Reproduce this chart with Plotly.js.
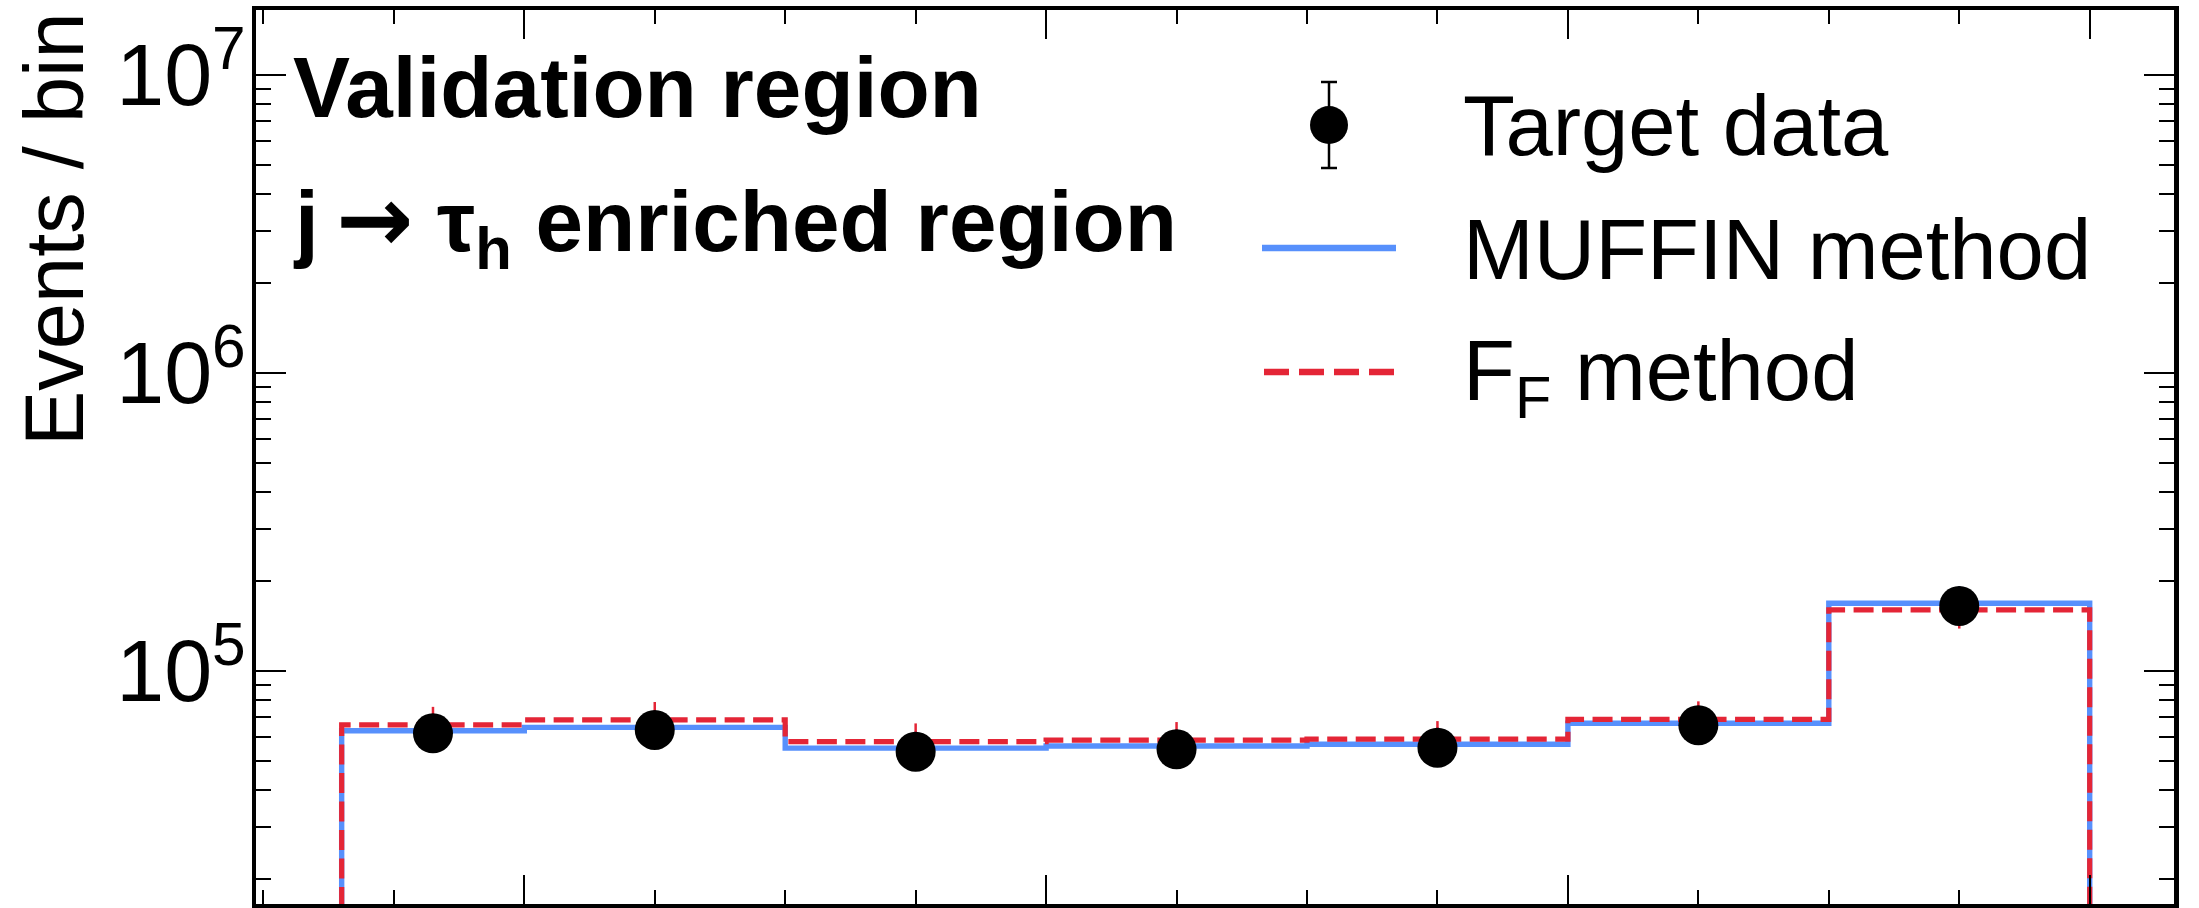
<!DOCTYPE html>
<html>
<head>
<meta charset="utf-8">
<script src="https://cdn.plot.ly/plotly-3.0.1.min.js"></script>
<style>
  html, body { margin: 0; padding: 0; background: #ffffff; }
  #chart { width: 2199px; height: 908px; }
</style>
</head>
<body>
<div id="chart"></div>
<script>
// ---------------- data ----------------
const binEdges    = [-1.4, 0, 2, 4, 6, 8, 10, 12];
const targetData  = [61800, 63400, 53600, 54600, 55300, 65800, 165300];
const targetErr   = [250, 252, 232, 234, 235, 257, 407];
const muffin      = [63000, 64700, 55100, 56000, 56800, 66800, 168700];
const muffinErr   = [8800, 9100, 7700, 7800, 8000, 9400, 24000];
const ffMethod    = [65900, 68500, 57900, 58600, 59100, 68800, 160300];
const ffErr       = [9900, 10200, 8800, 8800, 8800, 10300, 21500];
const legendNames = ["Target data", "MUFFIN method", "F<sub>F</sub> method"];
const regionLines = ["Validation region",
  "j\u2009<span style=\"font-family:DejaVu Sans;font-size:108%\">\u2192</span> \u03c4<sub>h</sub> enriched region"];
const yTitle      = "Events / bin";

// ---------------- styles ----------------
const W = 2199, H = 908;
const M = {l: 256, r: 25, t: 10, b: 4};
const PW = W - M.l - M.r, PH = H - M.t - M.b;
const BLUE = "#5790fc", RED = "#e42536";
const FONT = "Liberation Sans, Arial, Helvetica, sans-serif";
const FLOOR = 1; // histogram walls run down below the visible range

function px(x) { return (x - M.l) / PW; }
function py(y) { return (M.t + PH - y) / PH; }

const centers = binEdges.slice(0, -1).map((e, i) => (e + binEdges[i + 1]) / 2);

function stepXY(vals) {
  const n = vals.length;
  const xs = [binEdges[0]], ys = [FLOOR];
  for (let i = 0; i < n; i++) { xs.push(binEdges[i]); ys.push(vals[i]); }
  xs.push(binEdges[n]); ys.push(vals[n - 1]);
  xs.push(binEdges[n]); ys.push(FLOOR);
  return {x: xs, y: ys};
}

const sb = stepXY(muffin), sr = stepXY(ffMethod);

const traces = [
  {x: sb.x, y: sb.y, type: "scatter", mode: "lines", line: {shape: "hv", color: BLUE, width: 5.4},
   name: legendNames[1], showlegend: false, hoverinfo: "skip"},
  {x: centers, y: muffin, type: "scatter", mode: "markers", marker: {size: 1, opacity: 0},
   error_y: {type: "data", array: muffinErr, visible: true, color: BLUE, thickness: 2.5, width: 0},
   showlegend: false, hoverinfo: "skip"},
  {x: sr.x, y: sr.y, type: "scatter", mode: "lines", line: {shape: "hv", color: RED, width: 5.2, dash: "20px,8.5px"},
   name: legendNames[2], showlegend: false, hoverinfo: "skip"},
  {x: centers, y: ffMethod, type: "scatter", mode: "markers", marker: {size: 1, opacity: 0},
   error_y: {type: "data", array: ffErr, visible: true, color: RED, thickness: 2.5, width: 0},
   showlegend: false, hoverinfo: "skip"},
  {x: centers, y: targetData, type: "scatter", mode: "markers",
   marker: {size: 40, color: "black", symbol: "circle"},
   error_y: {type: "data", array: targetErr, visible: true, color: "black", thickness: 2.5, width: 8},
   name: legendNames[0], showlegend: false, hoverinfo: "skip"}
];

// legend keys (decoration)
const shapes = [
  {type: "line", xref: "paper", yref: "paper", x0: px(1329), x1: px(1329), y0: py(82), y1: py(168),
   line: {color: "black", width: 2.5}},
  {type: "line", xref: "paper", yref: "paper", x0: px(1321), x1: px(1337), y0: py(82), y1: py(82),
   line: {color: "black", width: 2.5}},
  {type: "line", xref: "paper", yref: "paper", x0: px(1321), x1: px(1337), y0: py(168), y1: py(168),
   line: {color: "black", width: 2.5}},
  {type: "circle", xref: "paper", yref: "paper", xsizemode: "pixel", ysizemode: "pixel",
   xanchor: px(1329), yanchor: py(125), x0: -19, x1: 19, y0: -19, y1: 19,
   fillcolor: "black", line: {width: 0}},
  {type: "line", xref: "paper", yref: "paper", x0: px(1262), x1: px(1396), y0: py(248), y1: py(248),
   line: {color: BLUE, width: 6.5}},
  {type: "line", xref: "paper", yref: "paper", x0: px(1264), x1: px(1394), y0: py(372), y1: py(372),
   line: {color: RED, width: 6.5, dash: "25px,10px"}}
];

function ann(text, x, y, size, bold, extra) {
  return Object.assign({
    text: bold ? "<b>" + text + "</b>" : text,
    xref: "paper", yref: "paper", x: px(x), y: py(y),
    xanchor: "left", yanchor: "middle", showarrow: false,
    font: {family: FONT, size: size, color: "black"}
  }, extra || {});
}

const annotations = [
  ann(regionLines[0], 291, 88, 85.5, true),
  ann(regionLines[1], 291, 223, 85.5, true),
  ann(legendNames[0], 1461, 126, 85, false),
  ann(legendNames[1], 1461, 249, 85, false),
  ann(legendNames[2], 1461, 377, 85, false),
  ann(yTitle, 54, 229, 83, false, {xanchor: "center", yanchor: "middle", textangle: -90})
];

const layout = {
  width: W, height: H,
  margin: M,
  paper_bgcolor: "#ffffff", plot_bgcolor: "#ffffff",
  showlegend: false,
  font: {family: FONT, color: "black"},
  xaxis: {
    range: [(M.l - 524.3) / 130.45, (M.l + PW - 524.3) / 130.45],
    showline: true, linecolor: "black", linewidth: 4.5, mirror: "ticks",
    ticks: "inside", ticklen: 29, tickwidth: 2.2, tickcolor: "black",
    tick0: 0, dtick: 4, showticklabels: false,
    showgrid: false, zeroline: false,
    minor: {ticks: "inside", ticklen: 14, tickwidth: 2, tickcolor: "black", tick0: 0, dtick: 1, showgrid: false}
  },
  yaxis: {
    type: "log",
    range: [7 - (M.t + PH - 75) / 298, 7 + (75 - M.t) / 298],
    showline: true, linecolor: "black", linewidth: 4.5, mirror: "ticks",
    ticks: "inside", ticklen: 30, tickwidth: 2.2, tickcolor: "black",
    tick0: 0, dtick: 1, exponentformat: "power", showexponent: "all",
    tickfont: {family: FONT, size: 69, color: "black"},
    ticklabelstandoff: -8, ticklabeloverflow: "allow",
    showgrid: false, zeroline: false,
    minor: {ticks: "inside", ticklen: 15, tickwidth: 2, tickcolor: "black", dtick: "D1", showgrid: false}
  },
  shapes: shapes,
  annotations: annotations
};

Plotly.newPlot("chart", traces, layout, {displayModeBar: false, staticPlot: true});
</script>
</body>
</html>
